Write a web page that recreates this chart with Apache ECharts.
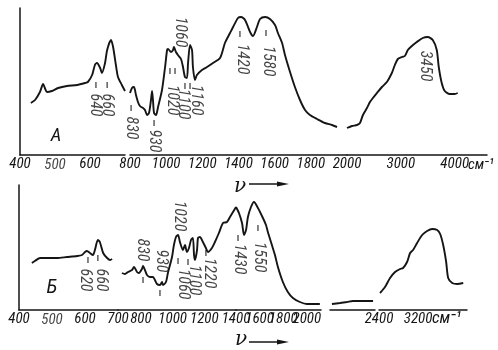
<!DOCTYPE html>
<html><head><meta charset="utf-8">
<script src="https://cdn.jsdelivr.net/npm/echarts@6/dist/echarts.min.js"></script>
<style>html,body{margin:0;padding:0;background:#fff}#c{width:498px;height:350px}</style>
</head><body><div id="c"></div>
<script>
// ---------- Spectrum A (wavenumber, cm-1 / relative absorption) ----------
const a1Wn  = [431,443,457,466,471,477,491,509,534,563,586,594,606,614,620,629,634,643,649,660,666,674,680,691,700];
const a1Val = [52,55,63,71,67,63,64,67,69,70,72,73,80,90,92,87,82,92,105,115,108,90,78,70,64];
const a2Wn  = [800,811,822,833,844,855,872,883,894,905,916,922,927,933,944,955,977,994,1005,1010,1027,1038,1043,1054,1065,1082,1093,1104,1115,1121,1132,1143,1148,1159,1170,1198,1226,1259,1298,1325,1353,1370,1397,1414,1436,1464,1480,1502,1519,1547,1574,1602,1618,1641,1657,1685,1712,1740,1768,1795,1834,1878,1917,1945];
const a2Val = [62,67,68,60,53,49,47,45,40,42,55,64,55,42,40,48,65,88,105,106,103,105,108,103,100,96,88,78,77,92,110,105,88,75,80,85,88,92,97,112,122,128,137,138,135,123,119,128,136,138,136,130,122,112,100,83,68,55,45,40,36,32,30,28];
const a3Wn  = [2000,2093,2185,2241,2296,2370,2426,2481,2556,2648,2741,2833,2889,2944,3019,3074,3130,3204,3296,3407,3500,3593,3667,3704,3759,3815,3907,4000,4056];
const a3Val = [27,29,30,32,40,47,53,57,62,68,73,82,90,96,98,99,105,109,113,117,118,115,105,88,72,64,61,61,62];

// ---------- Spectrum Б ----------
const b1Wn  = [439,448,464,485,515,545,576,591,600,606,615,624,630,639,645,655,667,676,682];
const b1Val = [47,49,52,52,52,53,54,55,58,59,57,55,60,70,68,57,52,50,51];
const b2Wn  = [680,699,718,743,756,775,787,806,813,825,838,857,876,888,901,920,933,939,958,970,996,1008,1021,1034,1046,1065,1078,1090,1103,1116,1128,1135,1141,1154,1160,1172,1191,1210,1223,1248,1267,1292,1318,1343,1362,1381,1400];
const b2Val = [37,36,38,40,43,38,37,41,44,40,35,33,33,30,26,25,28,25,28,37,53,65,73,75,68,60,65,58,62,70,72,55,50,60,72,73,68,62,58,62,68,77,87,88,93,98,103];
const b3Wn  = [1400,1425,1451,1468,1485,1501,1527,1552,1586,1628,1654,1670,1704,1730,1755,1797,1839,1882,1941,2000,2051,2110];
const b3Val = [103,97,87,75,80,93,103,108,102,92,85,78,65,55,43,28,18,12,8,6,6,6];
const b4Wn  = [2113,2167,2213,2253,2320,2387];
const b4Val = [6,7,8,9,9,9];
const b5Wn  = [2421,2523,2626,2728,2831,2892,2974,3036,3097,3179,3282,3384,3487,3590,3651,3713,3774,3815,3897,4000,4123];
const b5Val = [17,23,32,38,41,42,48,57,60,67,75,79,81,80,76,65,48,32,27,26,27];

// ---------- band annotations ----------
const annoALabels = ['640','660','830','930','1060','1020','1100','1160','1420','1580','3450'];
const annoAWn     = [614,649,806,933,1077,1032,1093,1165,1419,1563,3444];
const annoAY      = [50,50,27,14,123,55,51,55,96,94,89];
const tickAWn     = [617,649,806,933,1021,1049,1104,1132,1408,1552];
const tickAY      = [70,70,47,32,84,84,69,69,121,122];

const annoBLabels = ['620','660','830','930','1020','1060','1100','1220','1430','1550'];
const annoBWn     = [600,648,806,926,1040,1065,1135,1229,1425,1594];
const annoBY      = [30,30,60,49,94,26,30,37,51,53];
const tickBWn     = [609,639,813,920,1034,1097,1210,1417,1586];
const tickBY      = [50,52,30,17,49,48,57,72,82];

// axis tick labels per broken-axis segment
const tickLabelsA = [[400,500,600],[800,1000,1200,1400,1600,1800,2000],[3000,4000]];
const tickLabelsB = [[400,500,600,700],[800,1000,1200,1400],[1600,1800,2000],[],[2400,3200]];
// tick labels placed as labels on the axis baseline (the axis itself drops them)
const baseLabelWn = [500];
const unitText = 'см⁻¹';

// ---------- layout of the broken axes ----------
const NARROW = '"Noto Sans ExtraCondensed","Noto Sans Condensed","Roboto Condensed","Liberation Sans Narrow","DejaVu Sans Condensed",Roboto,sans-serif';
const INK = '#151515';
const LBL = 15;
const ANN = 16;
const panels = {
  A: {top: 8, bottom: 155, ymax: 147},
  B: {top: 185, bottom: 310, ymax: 125}
};
const segs = [
  {p:'A', min:400,  max:700,  x0:20,  x1:125, iv:100,  labels:tickLabelsA[0]},
  {p:'A', min:800,  max:2000, x0:130, x1:347, iv:200,  labels:tickLabelsA[1]},
  {p:'A', min:2000, max:4600, x0:347, x1:487, iv:1000, labels:tickLabelsA[2]},
  {p:'B', min:400,  max:700,  x0:19,  x1:118, iv:100,  labels:tickLabelsB[0]},
  {p:'B', min:655,  max:1400, x0:118, x1:236, iv:5,    labels:tickLabelsB[1]},
  {p:'B', min:1400, max:2120, x0:236, x1:321, iv:200,  labels:tickLabelsB[2]},
  {p:'B', min:2100, max:2400, x0:330, x1:375, iv:100,  labels:tickLabelsB[3]},
  {p:'B', min:2400, max:4200, x0:379, x1:467, iv:800,  labels:tickLabelsB[4]}
];

const grid = [], xAxis = [], yAxis = [], series = [];
const labelStyle = {margin:2, color:INK, fontStyle:'italic', fontSize:LBL, fontFamily:NARROW,
  hideOverlap:false, showMinLabel:true, showMaxLabel:true};
segs.forEach((s, i) => {
  const P = panels[s.p];
  grid.push({left: s.x0, top: P.top, width: s.x1 - s.x0, height: P.bottom - P.top, outerBoundsMode: 'none', containLabel: false});
  const first = (i === 0 || i === 3);
  yAxis.push({type:'value', gridIndex:i, min:0, max:P.ymax, show: first,
    axisLine:{show:first, lineStyle:{color:INK, width:1.5}}, axisTick:{show:false}, axisLabel:{show:false}, splitLine:{show:false}});
  const axisVals = s.labels.filter(v => !baseLabelWn.includes(v));
  // two label layers per segment (even / odd labels) so neighbouring labels are never auto-hidden
  [0, 1].forEach(par => {
    const vals = axisVals.filter((v, k) => k % 2 === par);
    xAxis.push({type:'value', gridIndex:i, position:'bottom', min:s.min, max:s.max, interval:s.iv,
      axisLine:{show: par === 0, onZero:false, lineStyle:{color:INK, width:1.5}},
      axisTick:{show:false}, splitLine:{show:false}, minorTick:{show:false},
      axisLabel:Object.assign({show: vals.length > 0, customValues: vals,
        formatter: v => vals.includes(v) ? String(v) : ''}, labelStyle)
    });
  });
  const baseVals = s.labels.filter(v => baseLabelWn.includes(v));
  if (baseVals.length) {
    series.push({type:'scatter', xAxisIndex:2 * i, yAxisIndex:i, clip:false, silent:true,
      data: baseVals.map(v => ({name:String(v), value:[v, 0]})),
      symbol:'circle', symbolSize:1, itemStyle:{color:'rgba(0,0,0,0)'},
      label:{show:true, position:'bottom', distance:2, formatter: q => q.name, color:INK,
        fontStyle:'italic', fontSize:LBL, fontFamily:NARROW}});
  }
});

function addLine(idx, wn, val) {
  series.push({type:'line', xAxisIndex:2 * idx, yAxisIndex:idx, data: wn.map((w, k) => [w, val[k]]),
    showSymbol:false, smooth:0.25, silent:true,
    lineStyle:{color:INK, width:1.9}});
}
addLine(0, a1Wn, a1Val); addLine(1, a2Wn, a2Val); addLine(2, a3Wn, a3Val);
addLine(3, b1Wn, b1Val); addLine(4, b2Wn, b2Val); addLine(5, b3Wn, b3Val);
addLine(6, b4Wn, b4Val); addLine(7, b5Wn, b5Val);

function segFor(p, w) {
  for (let i = 0; i < segs.length; i++) {
    if (segs[i].p === p && w >= segs[i].min && w <= segs[i].max) {
      if (p === 'B' && i === 3 && w > 690) continue;
      return i;
    }
  }
  return -1;
}
function addAnno(p, labels, wn, ys) {
  const byIdx = {};
  wn.forEach((w, k) => { const i = segFor(p, w); (byIdx[i] = byIdx[i] || []).push({name: labels[k], value:[w, ys[k]]}); });
  Object.keys(byIdx).forEach(i => {
    series.push({type:'scatter', xAxisIndex:2 * i, yAxisIndex:+i, data: byIdx[i], symbol:'circle', symbolSize:1,
      itemStyle:{color:'rgba(0,0,0,0)'}, silent:true,
      label:{show:true, position:'inside', rotate:-90, formatter: q => q.name, color:INK,
        fontStyle:'italic', fontSize:ANN, fontFamily:NARROW}});
  });
}
function addTicks(p, wn, ys) {
  const byIdx = {};
  wn.forEach((w, k) => { const i = segFor(p, w); (byIdx[i] = byIdx[i] || []).push([w, ys[k]]); });
  Object.keys(byIdx).forEach(i => {
    series.push({type:'scatter', xAxisIndex:2 * i, yAxisIndex:+i, data: byIdx[i], symbol:'rect', symbolSize:[1.3, 6],
      itemStyle:{color:INK}, silent:true});
  });
}
addAnno('A', annoALabels, annoAWn, annoAY);
addAnno('B', annoBLabels, annoBWn, annoBY);
addTicks('A', tickAWn, tickAY);
addTicks('B', tickBWn, tickBY);

function txt(x, y, t, font, align) {
  const a = align || 'center';
  return {type:'text', x:x, y:y, silent:true,
    style:{text:t, font:font, fill:INK, align:a, verticalAlign:'middle', textAlign:a, textVerticalAlign:'middle'}};
}
function arrow(x1, x2, y) {
  return [
    {type:'line', silent:true, shape:{x1:x1, y1:y, x2:x2 - 6, y2:y}, style:{stroke:INK, lineWidth:1.5}},
    {type:'polygon', silent:true, shape:{points:[[x2 - 12, y - 2.5], [x2, y], [x2 - 12, y + 2.5]]}, style:{fill:INK}}
  ];
}
const graphic = [
  txt(56, 136, 'A', 'italic 19px ' + NARROW),
  txt(52, 288, 'Б', 'italic 20px ' + NARROW),
  txt(240, 187, 'ν', 'italic 20px "DejaVu Serif", serif'),
  txt(241, 340, 'ν', 'italic 20px "DejaVu Serif", serif'),
  txt(468, 165, unitText, 'italic ' + LBL + 'px ' + NARROW, 'left'),
  txt(432, 319, unitText, 'italic ' + (LBL + 2) + 'px ' + NARROW, 'left')
].concat(arrow(249, 289, 184), arrow(249, 289, 342));

const chart = echarts.init(document.getElementById('c'), null, {renderer:'canvas'});
chart.setOption({animation:false, backgroundColor:'#fff', grid, xAxis, yAxis, series, graphic});
</script>
</body></html>
